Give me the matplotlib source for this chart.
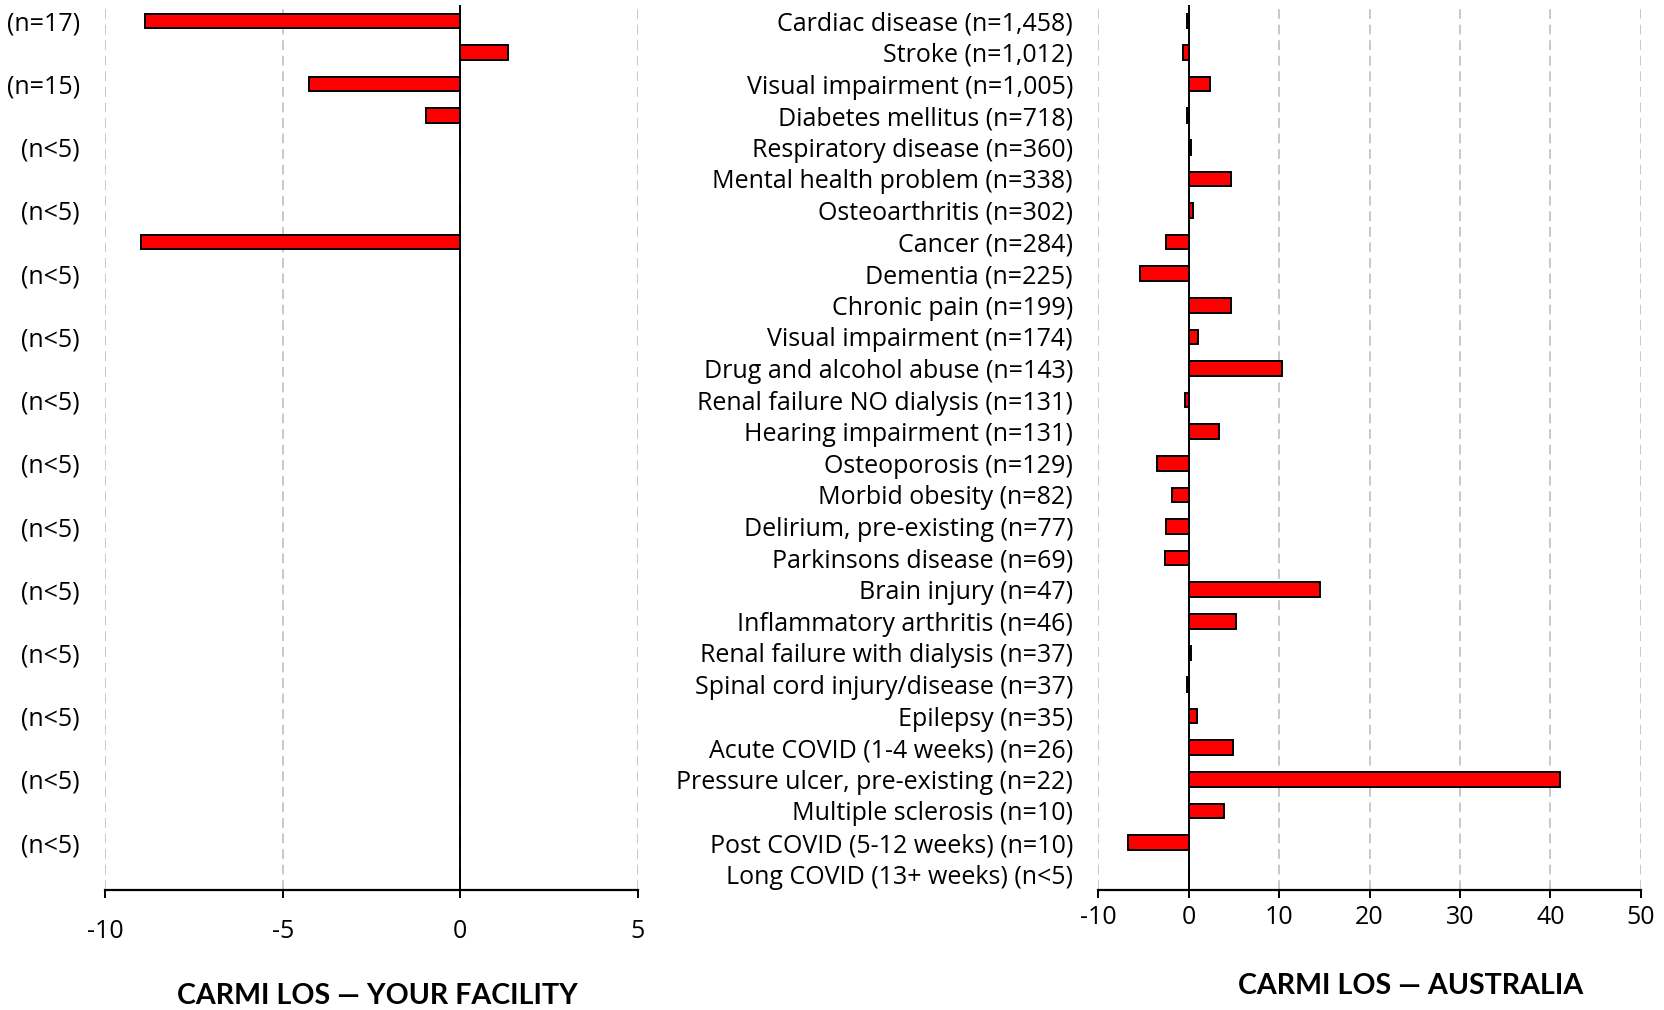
import matplotlib
matplotlib.use('Agg')
import matplotlib.pyplot as plt
import numpy as np

# ---- data -------------------------------------------------------------
conditions = [
    'Cardiac disease (n=1,458)', 'Stroke (n=1,012)', 'Visual impairment (n=1,005)',
    'Diabetes mellitus (n=718)', 'Respiratory disease (n=360)',
    'Mental health problem (n=338)', 'Osteoarthritis (n=302)', 'Cancer (n=284)',
    'Dementia (n=225)', 'Chronic pain (n=199)', 'Visual impairment (n=174)',
    'Drug and alcohol abuse (n=143)', 'Renal failure NO dialysis (n=131)',
    'Hearing impairment (n=131)', 'Osteoporosis (n=129)', 'Morbid obesity (n=82)',
    'Delirium, pre-existing (n=77)', 'Parkinsons disease (n=69)',
    'Brain injury (n=47)', 'Inflammatory arthritis (n=46)',
    'Renal failure with dialysis (n=37)', 'Spinal cord injury/disease (n=37)',
    'Epilepsy (n=35)', 'Acute COVID (1-4 weeks) (n=26)',
    'Pressure ulcer, pre-existing (n=22)', 'Multiple sclerosis (n=10)',
    'Post COVID (5-12 weeks) (n=10)', 'Long COVID (13+ weeks) (n<5)',
]
australia_los = [
    -0.2, -0.6, 2.35, -0.15, 0.3, 4.7, 0.5, -2.45, -5.4, 4.7, 1.1,
    10.3, -0.35, 3.4, -3.5, -1.8, -2.45, -2.65, 14.5, 5.3, 0.3, -0.2,
    0.9, 4.9, 41.1, 3.9, -6.65, 0.0,
]

# facility panel: every row has a value slot, only some rows carry data
facility_los = [
    -8.88, 1.35, -4.25, -0.96, 0, 0, 0, -8.99, 0, 0, 0, 0, 0, 0,
    0, 0, 0, 0, 0, 0, 0, 0, 0, 0, 0, 0, 0, 0,
]
facility_labels = [
    '(n=17)', '(n=15)', '(n<5)', '(n<5)', '(n<5)', '(n<5)', '(n<5)',
    '(n<5)', '(n<5)', '(n<5)', '(n<5)', '(n<5)', '(n<5)', '(n<5)',
]

left_ticks = [-10, -5, 0, 5]
right_ticks = [-10, 0, 10, 20, 30, 40, 50]

LABEL_FONT = 'Open Sans'
TITLE_FONT = 'Lato'
BAR_RED = '#ff0000'
GRID_GREY = '#c8c8c8'
W, H = 1665, 1010


def style_axis(ax, ticks, tick_font, tick_pad):
    ax.set_xlim(ticks[0], ticks[-1])
    ax.set_xticks(ticks)
    ax.set_xticklabels([str(t) for t in ticks], fontsize=18, family=tick_font)
    ax.set_ylim(27.5, -0.5)
    for t in ticks:
        if t != 0:
            ax.axvline(t, color=GRID_GREY, lw=1.4, ls=(0, (5, 3)), zorder=0)
    ax.axvline(0, color='black', lw=1.4, zorder=3)
    for side in ('top', 'right', 'left'):
        ax.spines[side].set_visible(False)
    ax.spines['bottom'].set_linewidth(1.6)
    ax.tick_params(axis='x', direction='out', length=6, width=1.4, pad=tick_pad)
    ax.tick_params(axis='y', length=0, pad=18)


def box(x0, x1, y_top, y_bot):
    return [x0 / W, 1 - y_bot / H, (x1 - x0) / W, (y_bot - y_top) / H]


fig = plt.figure(figsize=(W / 100, H / 100), dpi=100)

# left: your facility
ax1 = fig.add_axes(box(105, 638, 5, 890))
rows = np.arange(len(facility_los))
ax1.barh(rows, facility_los, height=0.46, color=BAR_RED, edgecolor='black',
         linewidth=1.4, zorder=2)
style_axis(ax1, left_ticks, LABEL_FONT, 15)
ax1.set_yticks(rows[::2])
ax1.set_yticklabels(facility_labels, fontsize=18, family=LABEL_FONT)

# right: Australia
ax2 = fig.add_axes(box(1098, 1641, 5, 890))
rows2 = np.arange(len(conditions))
ax2.barh(rows2, australia_los, height=0.46, color=BAR_RED, edgecolor='black',
         linewidth=1.4, zorder=2)
style_axis(ax2, right_ticks, 'Open Sans', 5)
ax2.set_yticks(rows2)
ax2.set_yticklabels(conditions, fontsize=18, family=LABEL_FONT)

fig.text(377 / W, 1 - 996 / H, 'CARMI LOS \u2014 YOUR FACILITY', fontsize=20.6,
         fontweight='bold', family=TITLE_FONT, ha='center', va='center')
fig.text(1411 / W, 1 - 986 / H, 'CARMI LOS \u2014 AUSTRALIA', fontsize=20.6,
         fontweight='bold', family=TITLE_FONT, ha='center', va='center')

fig.savefig('out.png', dpi=100)
